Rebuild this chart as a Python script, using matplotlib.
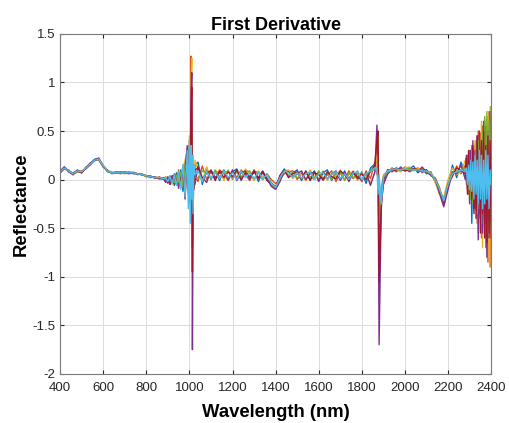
import numpy as np
import matplotlib.pyplot as plt

plt.rcParams['font.family'] = ['Liberation Sans', 'DejaVu Sans']

# wavelength grid (nm), denser around the two spikes and the noisy tail
wavelength = np.concatenate([
    np.arange(400, 881, 20),
    np.arange(890, 981, 10),
    [990, 995, 1000, 1004, 1008, 1011, 1014, 1017, 1021, 1026],
    np.arange(1040, 1861, 20),
    [1870, 1875, 1880, 1890, 1900],
    np.arange(1920, 2281, 20),
    np.arange(2285, 2401, 5),
])

s_blue = [
    0.09, 0.13, 0.08, 0.07, 0.09, 0.07, 0.13, 0.16, 0.21, 0.22, 0.14, 0.08, 0.07, 0.08, 0.07, 0.08, 0.07, 0.06, 0.06, 0.05, 0.04, 0.02, 0.03, 0.01, 0.02,
    -0.02, 0.03, -0.05, 0.04, -0.06, 0.07, -0.06, 0.10, -0.12, 0.18,
    0.02, 0.25, -0.20, 0.35, 0.55, 0.30, -0.45, 0.10, -0.08, 0.14,
    0.18, -0.05, 0.12, 0.00, 0.09, -0.01, 0.10, 0.00, 0.08, 0.11, -0.01, 0.09, 0.01, 0.10, -0.02, 0.08, 0.00, -0.05, -0.09, 0.04, 0.11,
    0.03, 0.07, 0.10, -0.01, 0.08, 0.00, 0.09, -0.02, 0.07, 0.10, -0.01, 0.08, 0.00, 0.09, -0.02, 0.07, 0.00, 0.08, -0.04, 0.12, 0.16,
    0.18, 0.30, -0.60, -0.15, 0.02,
    0.07, 0.12, 0.08, 0.13, 0.09, 0.11, 0.14, 0.07, 0.11, 0.06, 0.08, -0.02, -0.12, -0.20, -0.08, 0.15, 0.02, 0.18, 0.05,
    0.22, -0.05, 0.18, -0.10, 0.28, -0.45, 0.25, -0.15, 0.35, -0.30, 0.20, -0.40, 0.45, -0.20, 0.38, -0.50, 0.30, -0.35, 0.55, -0.42, 0.40, -0.30, 0.60, -0.10,
]
s_orange = [
    0.07, 0.11, 0.10, 0.05, 0.08, 0.09, 0.11, 0.15, 0.20, 0.20, 0.13, 0.10, 0.06, 0.07, 0.06, 0.07, 0.08, 0.07, 0.05, 0.06, 0.03, 0.04, 0.01, 0.03, 0.00,
    0.03, -0.04, 0.04, -0.03, 0.06, -0.05, 0.10, -0.08, 0.15, -0.15,
    0.20, -0.15, 0.40, -0.25, 1.27, 0.60, -0.70, -0.20, 0.15, 0.05,
    -0.02, 0.14, 0.00, 0.09, 0.01, 0.10, 0.06, -0.01, 0.09, 0.02, 0.10, 0.05, -0.01, 0.09, 0.07, 0.00, 0.06, 0.00, -0.04, 0.00, 0.06,
    0.08, 0.09, 0.00, 0.07, -0.01, 0.09, 0.02, 0.08, -0.01, 0.05, 0.09, -0.02, 0.07, 0.00, 0.09, 0.01, 0.07, -0.02, 0.09, 0.01, 0.18,
    0.05, 0.20, -1.00, -0.10, -0.05,
    0.10, 0.08, 0.11, 0.09, 0.13, 0.08, 0.10, 0.12, 0.07, 0.10, 0.04, 0.02, -0.08, -0.25, -0.02, 0.03, 0.14, 0.06, 0.15,
    -0.05, 0.25, -0.15, 0.30, -0.20, 0.35, -0.10, 0.32, -0.30, 0.40, -0.45, 0.50, -0.35, 0.48, -0.60, 0.55, -0.40, 0.62, -0.70, 0.55, -0.85, 0.70, -0.90, 0.45,
]
s_yellow = [
    0.10, 0.12, 0.09, 0.06, 0.09, 0.08, 0.12, 0.16, 0.19, 0.21, 0.15, 0.09, 0.08, 0.07, 0.07, 0.06, 0.07, 0.08, 0.06, 0.05, 0.04, 0.03, 0.02, 0.02, 0.00,
    0.02, -0.02, 0.03, -0.05, 0.05, -0.02, 0.08, -0.06, 0.12, 0.20,
    0.30, 0.05, 0.45, -0.10, 0.95, 1.25, -0.68, 0.25, -0.05, 0.20,
    0.10, -0.02, 0.13, 0.01, 0.07, 0.09, -0.01, 0.10, 0.02, 0.08, 0.00, 0.11, 0.06, -0.01, 0.09, 0.03, 0.05, -0.06, -0.10, 0.03, 0.09,
    0.10, 0.01, 0.07, 0.05, -0.01, 0.10, 0.03, 0.01, 0.09, -0.01, 0.07, 0.03, 0.10, 0.00, 0.05, 0.09, -0.01, 0.07, 0.03, -0.03, 0.06,
    0.25, 0.45, -0.35, -0.20, 0.05,
    0.09, 0.11, 0.10, 0.08, 0.12, 0.13, 0.09, 0.11, 0.12, 0.09, 0.07, -0.03, -0.15, -0.18, 0.00, 0.12, 0.05, 0.08, 0.20,
    0.12, 0.02, 0.25, -0.20, 0.30, -0.05, 0.22, -0.35, 0.40, -0.25, 0.35, -0.55, 0.30, -0.40, 0.60, -0.70, 0.45, -0.50, 0.40, -0.55, 0.65, -0.80, 0.75, -0.90,
]
s_purple = [
    0.08, 0.13, 0.08, 0.05, 0.10, 0.07, 0.12, 0.17, 0.20, 0.22, 0.13, 0.09, 0.07, 0.07, 0.08, 0.07, 0.06, 0.07, 0.06, 0.05, 0.04, 0.03, 0.02, 0.01, 0.01,
    -0.03, 0.02, -0.05, 0.04, -0.04, 0.06, -0.09, 0.06, -0.05, 0.10,
    0.35, -0.10, 0.30, 0.15, 0.90, 1.10, -1.75, -0.35, 0.12, -0.05,
    0.14, 0.02, -0.03, 0.10, 0.02, 0.07, 0.09, 0.00, 0.10, -0.01, 0.07, 0.09, 0.00, 0.08, 0.02, 0.09, 0.01, -0.07, -0.10, -0.02, 0.09,
    0.08, 0.03, 0.06, 0.09, 0.00, 0.06, 0.08, -0.01, 0.08, 0.01, 0.06, 0.09, -0.01, 0.07, 0.01, 0.08, 0.03, -0.01, 0.07, -0.06, 0.08,
    0.56, 0.10, -1.70, -0.25, -0.05,
    0.06, 0.10, 0.12, 0.10, 0.10, 0.09, 0.11, 0.08, 0.13, 0.07, 0.05, 0.01, -0.14, -0.28, -0.10, 0.08, 0.06, 0.15, 0.00,
    0.25, -0.10, 0.20, -0.25, 0.30, -0.15, 0.40, -0.35, 0.30, -0.20, 0.45, -0.62, 0.50, -0.40, 0.35, -0.55, 0.60, -0.45, 0.40, -0.80, 0.50, -0.60, 0.70, -0.45,
]
s_green = [
    0.08, 0.11, 0.09, 0.06, 0.08, 0.08, 0.12, 0.15, 0.20, 0.21, 0.14, 0.09, 0.07, 0.07, 0.07, 0.07, 0.07, 0.07, 0.06, 0.05, 0.03, 0.03, 0.02, 0.02, 0.01,
    0.01, -0.02, 0.03, -0.01, -0.03, 0.05, -0.03, 0.08, -0.08, 0.14,
    0.15, 0.30, -0.05, 0.25, 0.45, 0.40, -0.45, -0.10, 0.12, 0.02,
    0.02, 0.09, 0.07, 0.01, 0.10, 0.03, 0.07, 0.09, 0.00, 0.09, 0.03, 0.07, 0.09, 0.00, 0.08, 0.00, 0.06, -0.03, -0.07, 0.01, 0.10,
    0.04, 0.08, 0.02, 0.01, 0.08, 0.03, 0.00, 0.09, 0.01, 0.07, 0.00, 0.06, 0.08, -0.01, 0.07, 0.01, 0.09, 0.00, 0.06, 0.08, 0.11,
    0.10, 0.25, -0.45, -0.08, 0.03,
    0.08, 0.09, 0.11, 0.10, 0.10, 0.12, 0.10, 0.09, 0.10, 0.08, 0.06, 0.01, -0.10, -0.20, -0.04, 0.06, 0.09, 0.10, 0.12,
    0.10, 0.20, -0.10, 0.15, -0.20, 0.30, -0.25, 0.20, -0.15, 0.30, -0.35, 0.40, -0.30, 0.25, -0.45, 0.50, -0.35, 0.65, -0.40, 0.70, -0.55, 0.60, -0.50, 0.75,
]
s_red = [
    0.07, 0.12, 0.09, 0.06, 0.09, 0.07, 0.12, 0.16, 0.20, 0.21, 0.14, 0.09, 0.07, 0.07, 0.07, 0.07, 0.07, 0.07, 0.06, 0.05, 0.04, 0.03, 0.02, 0.01, 0.01,
    0.00, -0.03, 0.03, -0.02, 0.05, -0.05, 0.07, -0.04, 0.09, -0.20,
    0.25, -0.05, 0.35, 0.10, 0.70, 0.95, -0.95, 0.15, -0.10, 0.10,
    0.12, 0.00, 0.07, 0.09, -0.01, 0.09, 0.02, 0.08, 0.03, 0.10, 0.00, 0.07, 0.03, 0.09, 0.01, 0.08, -0.01, -0.04, -0.08, 0.04, 0.10,
    0.02, 0.06, 0.08, 0.00, 0.09, -0.01, 0.07, 0.05, 0.00, 0.08, 0.03, 0.01, 0.09, 0.05, -0.01, 0.08, 0.01, 0.06, 0.00, 0.09, 0.14,
    0.40, 0.50, -1.05, -0.30, 0.00,
    0.10, 0.09, 0.10, 0.11, 0.09, 0.10, 0.11, 0.10, 0.09, 0.10, 0.05, 0.00, -0.11, -0.24, -0.06, 0.04, 0.12, 0.09, 0.07,
    0.22, -0.15, 0.30, -0.05, 0.20, -0.20, 0.35, -0.30, 0.15, -0.40, 0.45, -0.25, 0.30, -0.55, 0.40, -0.35, 0.50, -0.60, 0.35, -0.65, 0.45, -0.55, 0.40, -0.60,
]
s_cyan = [
    0.08, 0.12, 0.09, 0.06, 0.09, 0.08, 0.12, 0.16, 0.20, 0.21, 0.14, 0.09, 0.07, 0.07, 0.07, 0.07, 0.07, 0.07, 0.06, 0.05, 0.04, 0.03, 0.02, 0.02, 0.01,
    0.01, -0.02, 0.03, -0.04, 0.05, -0.06, 0.08, -0.10, 0.15, -0.18,
    0.30, -0.30, 0.40, -0.45, 0.35, -0.20, 0.25, -0.35, 0.15, 0.05,
    0.09, -0.01, 0.08, 0.02, 0.07, 0.01, 0.09, 0.02, 0.07, 0.00, 0.09, 0.02, 0.07, 0.01, 0.08, 0.01, 0.05, -0.04, -0.08, 0.02, 0.09,
    0.07, 0.02, 0.07, 0.01, 0.06, 0.08, 0.00, 0.06, 0.07, 0.01, 0.06, 0.08, 0.01, 0.06, 0.00, 0.07, 0.08, 0.00, 0.06, 0.09, 0.12,
    0.12, -0.15, 0.05, -0.25, 0.02,
    0.09, 0.10, 0.11, 0.10, 0.11, 0.10, 0.10, 0.10, 0.09, 0.09, 0.06, 0.00, -0.10, -0.22, -0.05, 0.06, 0.08, 0.10, 0.08,
    0.12, -0.05, 0.15, -0.10, 0.20, -0.12, 0.18, -0.20, 0.25, -0.15, 0.20, -0.25, 0.30, -0.20, 0.25, -0.30, 0.20, -0.25, 0.30, -0.20, 0.25, -0.30, 0.10, -0.05,
]

spectra = [s_blue, s_orange, s_yellow, s_purple, s_green, s_red, s_cyan]
colors = ['#0072BD', '#D95319', '#EDB120', '#7E2F8E', '#77AC30', '#A2142F', '#4DBEEE']

fig, ax = plt.subplots(figsize=(5.09, 4.23), dpi=100)
fig.subplots_adjust(left=0.118, right=0.965, top=0.92, bottom=0.116)

for values, c in zip(spectra, colors):
    ax.plot(wavelength, values, color=c, linewidth=1.0)

ax.set_xlim(400, 2400)
ax.set_ylim(-2, 1.5)
ax.set_xticks(np.arange(400, 2401, 200))
ax.set_yticks([-2, -1.5, -1, -0.5, 0, 0.5, 1, 1.5])
ax.set_yticklabels(['-2', '-1.5', '-1', '-0.5', '0', '0.5', '1', '1.5'])
ax.grid(True, color='#dcdcdc', linewidth=0.7)
ax.set_axisbelow(True)
ax.tick_params(direction='in', labelsize=9.5, colors='#262626', length=3,
               top=True, right=True)
ax.tick_params(axis='x', pad=6)
for sp in ax.spines.values():
    sp.set_color('#7a7a7a')
    sp.set_linewidth(0.8)

ax.set_title('First Derivative', fontsize=13, fontweight='bold', pad=3)
ax.set_xlabel('Wavelength (nm)', fontsize=13.3, fontweight='bold', labelpad=7)
ax.set_ylabel('Reflectance', fontsize=13.3, fontweight='bold', labelpad=2)

fig.savefig('out.png', dpi=100)
